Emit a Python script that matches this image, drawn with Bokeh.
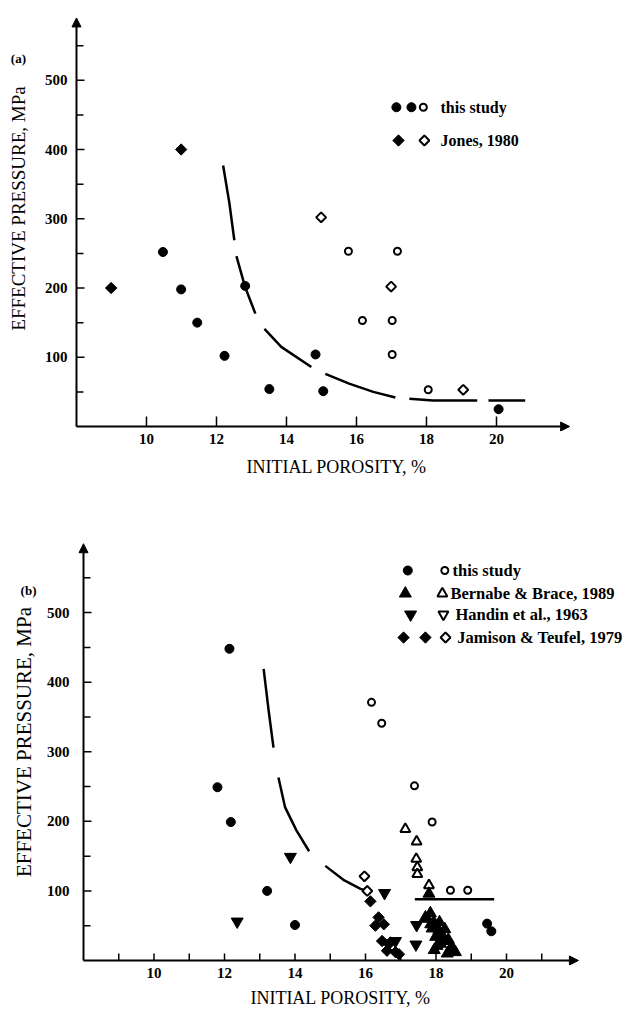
import numpy as np
from bokeh.plotting import figure
from bokeh.layouts import column
from bokeh.models import Range1d, FixedTicker, Arrow, NormalHead, Label
from bokeh.embed import file_html
from bokeh.resources import INLINE

nan = float("nan")

# ---------------- panel (a) data ----------------
a_study_filled_x = [10.47, 10.99, 11.45, 12.23, 12.82, 13.51, 14.83, 15.05, 20.06]
a_study_filled_y = [252, 198, 150, 102, 203, 54, 104, 51, 25]
a_study_open_x = [15.77, 17.17, 16.17, 17.02, 17.02, 18.05]
a_study_open_y = [253, 253, 153, 153, 104, 53]
a_jones_filled_x = [8.99, 10.99]
a_jones_filled_y = [200, 400]
a_jones_open_x = [14.99, 16.99, 19.05]
a_jones_open_y = [302, 202, 53]
a_curve_x = [12.19, 12.37, 12.51, nan, 12.57, 12.82, 13.11, nan, 13.37, 13.85, 14.71, nan,
             15.11, 15.79, 16.48, 17.11, nan, 17.51, 18.19, 19.45, nan, 19.77, 20.82]
a_curve_y = [377, 322, 269, nan, 246, 201, 163, nan, 141, 115, 86, nan,
             76, 62, 50, 42, nan, 40, 37.6, 37.6, nan, 37.6, 37.6]

# ---------------- panel (b) data ----------------
b_study_filled_x = [12.14, 11.80, 12.18, 13.21, 14.00, 19.45, 19.57]
b_study_filled_y = [448, 249, 199, 100, 51, 53, 42]
b_study_open_x = [16.17, 16.46, 17.39, 17.89, 18.41, 18.90]
b_study_open_y = [371, 341, 251, 199, 101, 101]
b_bernabe_open_x = [17.13, 17.45, 17.44, 17.47, 17.47, 17.80]
b_bernabe_open_y = [189, 171, 146, 134, 124, 108]
b_bernabe_filled_x = [17.80, 17.84, 17.75, 17.94, 17.89, 18.08, 17.99, 18.18, 18.13, 18.03,
                      18.41, 18.55, 18.32, 17.85, 18.00, 17.70, 18.20, 18.25, 18.45, 17.95,
                      18.10, 18.35]
b_bernabe_filled_y = [96, 68, 60, 55, 46, 43, 34, 36, 24, 21, 17, 12, 10, 52, 48, 62, 28,
                      45, 20, 15, 55, 30]
b_handin_filled_x = [12.36, 13.87, 16.54, 16.85, 16.62, 17.45, 17.43]
b_handin_filled_y = [56, 149, 97, 28, 25, 51, 23]
b_jamison_filled_x = [16.14, 16.37, 16.28, 16.52, 16.47, 16.71, 16.61, 16.85, 16.95]
b_jamison_filled_y = [85, 62, 50, 52, 28, 26, 14, 12, 9]
b_jamison_open_x = [15.97, 16.05]
b_jamison_open_y = [121, 100]
b_hline_x = [17.40, 19.65]
b_hline_y = [88, 88]
b_curve_x = [13.11, 13.25, 13.39, nan, 13.53, 13.72, 14.04, 14.40, nan, 14.86, 15.40, 15.86, 16.06]
b_curve_y = [419, 360, 306, nan, 263, 220, 187, 157, nan, 136, 115, 103, 100]

x_ticks = [10, 12, 14, 16, 18, 20]
x_minor = [9, 11, 13, 15, 17, 19, 21]
y_ticks = [100, 200, 300, 400, 500]
y_minor = [50, 150, 250, 350, 450, 550]

SERIF = "Liberation Serif"
DIAMOND = np.pi / 4
FRAME_LEFT = 70


def base_fig(height, top, bottom, xr, yr, x_tip, y_tip, tick_x_px, minor_x):
    p = figure(width=625, height=height, output_backend="svg", toolbar_location=None,
               x_range=Range1d(*xr), y_range=Range1d(*yr),
               min_border_left=FRAME_LEFT, min_border_right=0,
               min_border_top=top, min_border_bottom=bottom)
    p.grid.visible = False
    p.outline_line_color = None
    p.background_fill_color = "white"
    p.border_fill_color = "white"
    # axes at the frame edges carry the tick labels only
    for ax in (p.xaxis[0], p.yaxis[0]):
        ax.axis_line_color = None
        ax.major_tick_line_color = None
        ax.minor_tick_line_color = None
        ax.major_tick_in = 0
        ax.major_tick_out = 0
        ax.minor_tick_in = 0
        ax.minor_tick_out = 0
        ax.major_label_text_font = SERIF
        ax.major_label_text_font_style = "bold"
        ax.major_label_text_font_size = "15px"
        ax.major_label_text_color = "black"
    p.xaxis.ticker = FixedTicker(ticks=x_ticks, minor_ticks=[])
    p.yaxis.ticker = FixedTicker(ticks=y_ticks, minor_ticks=[])

    # pixel -> data conversions from the frame geometry
    frame_w = 625 - FRAME_LEFT
    frame_h = height - top - bottom
    px_x = (xr[1] - xr[0]) / frame_w
    px_y = (yr[1] - yr[0]) / frame_h
    # tick marks drawn inward from the axis lines
    xt = list(x_ticks) + (list(x_minor) if minor_x else [])
    p.segment(x0=xt, y0=[0] * len(xt), x1=xt, y1=[tick_x_px * px_y] * len(xt),
              line_color="black", line_width=1.5)
    p.segment(x0=[8] * len(y_ticks), y0=y_ticks, x1=[8 + 8 * px_x] * len(y_ticks), y1=y_ticks,
              line_color="black", line_width=1.5)
    p.segment(x0=[8] * len(y_minor), y0=y_minor, x1=[8 + 7 * px_x] * len(y_minor), y1=y_minor,
              line_color="black", line_width=1.5)
    # axis lines with arrow heads
    p.add_layout(Arrow(end=NormalHead(size=9, fill_color="black", line_color="black", line_width=1),
                       x_start=8, y_start=0, x_end=x_tip, y_end=0,
                       line_width=2, line_color="black"))
    p.add_layout(Arrow(end=NormalHead(size=9, fill_color="black", line_color="black", line_width=1),
                       x_start=8, y_start=0, x_end=8, y_end=y_tip,
                       line_width=2, line_color="black"))
    return p


def axis_titles(p, xlab_pos, ylab_pos, ysize):
    p.add_layout(Label(x=xlab_pos[0], y=xlab_pos[1], text="INITIAL POROSITY, %",
                       text_font=SERIF, text_font_size="18px", text_color="black",
                       text_align="center", text_baseline="middle"), "below")
    p.add_layout(Label(x=ylab_pos[0], y=ylab_pos[1], text="EFFECTIVE PRESSURE, MPa",
                       text_font=SERIF, text_font_size=ysize, text_color="black",
                       angle=np.pi / 2, text_align="center", text_baseline="middle"), "left")


def filled(p, x, y, marker, size, angle=0.0):
    p.scatter(x, y, marker=marker, size=size, angle=angle,
              fill_color="black", line_color="black", line_width=1)


def hollow(p, x, y, marker, size, angle=0.0):
    p.scatter(x, y, marker=marker, size=size, angle=angle,
              fill_color="white", line_color="black", line_width=2)


def legend_text(p, x, y, text, size):
    p.add_layout(Label(x=x, y=y, text=text, text_font=SERIF, text_font_style="bold",
                       text_font_size=size, text_baseline="middle", text_align="left",
                       text_color="black"))


# ---------------- figure (a) ----------------
pa = base_fig(486, 16, 55, (7.829, 23.686), (-7.22, 592.06), 22.09, 590, 10, False)
pa.xaxis[0].major_label_standoff = 2
pa.yaxis[0].major_label_standoff = 3
axis_titles(pa, (15.43, -59.2), (6.357, 314.8), "19px")

pa.line(a_curve_x, a_curve_y, line_width=2.5, line_color="black")
filled(pa, a_study_filled_x, a_study_filled_y, "circle", 9)
hollow(pa, a_study_open_x, a_study_open_y, "circle", 7)
filled(pa, a_jones_filled_x, a_jones_filled_y, "square", 8, DIAMOND)
hollow(pa, a_jones_open_x, a_jones_open_y, "square", 7, DIAMOND)

# legend (a)
filled(pa, [17.14, 17.57], [461, 461], "circle", 9)
hollow(pa, [17.91], [461], "circle", 7)
legend_text(pa, 18.40, 461, "this study", "16px")
filled(pa, [17.20], [413], "square", 8, DIAMOND)
hollow(pa, [17.94], [413], "square", 7, DIAMOND)
legend_text(pa, 18.40, 413, "Jones, 1980", "16px")
pa.add_layout(Label(x=6.34, y=531, text="(a)", text_font=SERIF, text_font_style="bold",
                    text_font_size="13px", text_baseline="middle", text_align="center",
                    text_color="black"),
              "above")

# ---------------- figure (b) ----------------
pb = base_fig(525, 44, 46, (7.631, 23.376), (-7.19, 618.0), 22.04, 599, 7, True)
pb.xaxis[0].major_label_standoff = 2
pb.yaxis[0].major_label_standoff = 1
axis_titles(pb, (15.29, -54.6), (6.326, 314.0), "21px")

pb.line(b_curve_x, b_curve_y, line_width=2.5, line_color="black")
pb.line(b_hline_x, b_hline_y, line_width=2.5, line_color="black")
filled(pb, b_study_filled_x, b_study_filled_y, "circle", 9)
hollow(pb, b_study_open_x, b_study_open_y, "circle", 7)
hollow(pb, b_bernabe_open_x, b_bernabe_open_y, "triangle", 10)
filled(pb, b_bernabe_filled_x, b_bernabe_filled_y, "triangle", 12)
filled(pb, b_handin_filled_x, b_handin_filled_y, "inverted_triangle", 12)
filled(pb, b_jamison_filled_x, b_jamison_filled_y, "square", 8, DIAMOND)
hollow(pb, b_jamison_open_x, b_jamison_open_y, "square", 7, DIAMOND)

# legend (b)
filled(pb, [17.20], [560.5], "circle", 9)
hollow(pb, [18.25], [560.5], "circle", 7)
legend_text(pb, 18.47, 560.5, "this study", "16.5px")
filled(pb, [17.13], [527.4], "triangle", 12)
hollow(pb, [18.18], [527.4], "triangle", 10)
legend_text(pb, 18.41, 527.4, "Bernabe & Brace, 1989", "16.5px")
filled(pb, [17.28], [497.3], "inverted_triangle", 12)
hollow(pb, [18.21], [497.3], "inverted_triangle", 10)
legend_text(pb, 18.55, 497.3, "Handin et al., 1963", "16.5px")
filled(pb, [17.08, 17.70], [464.2, 464.2], "square", 8, DIAMOND)
hollow(pb, [18.27], [464.2], "square", 7, DIAMOND)
legend_text(pb, 18.60, 464.2, "Jamison & Teufel, 1979", "16.5px")
pb.add_layout(Label(x=6.44, y=531.8, text="(b)", text_font=SERIF, text_font_style="bold",
                    text_font_size="13px", text_baseline="middle", text_align="center",
                    text_color="black"),
              "above")

layout = column(pa, pb)
open("out.html", "w").write(file_html(layout, INLINE))
